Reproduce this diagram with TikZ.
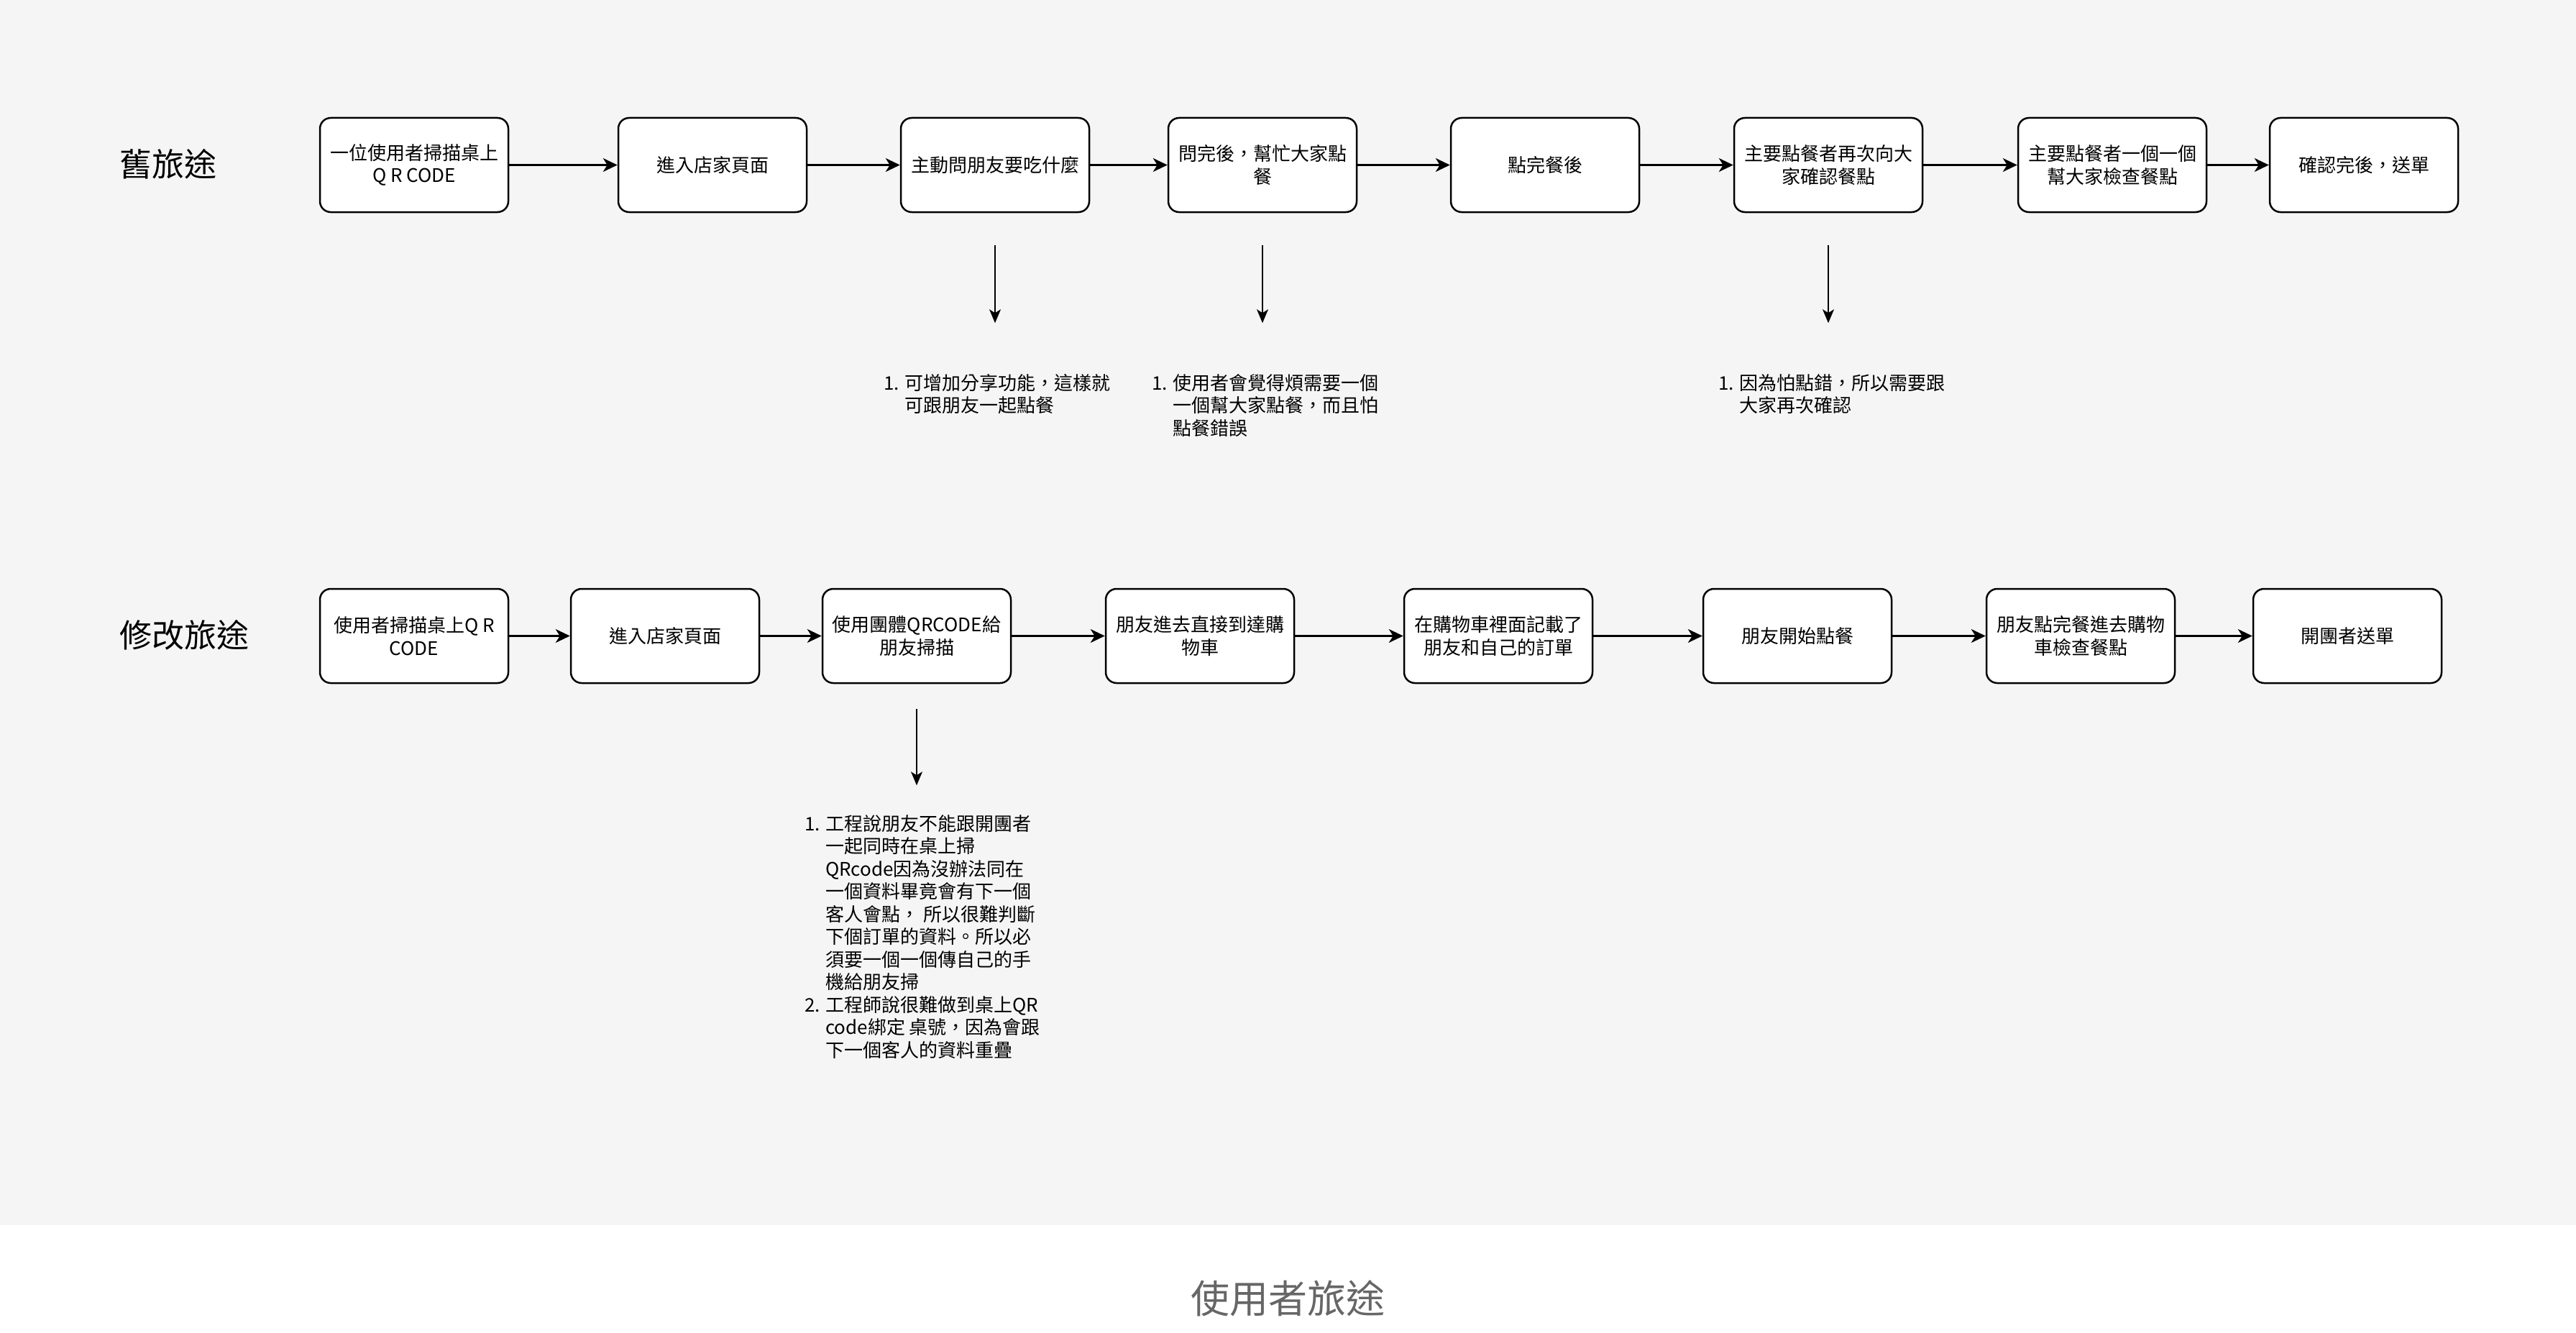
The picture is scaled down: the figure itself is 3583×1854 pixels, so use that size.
\documentclass[tikz,border=0pt]{standalone}
\usepackage{fontspec}
\setmainfont{Noto Sans CJK TC}
\usetikzlibrary{arrows.meta}
\definecolor{bggray}{HTML}{F5F5F5}
\definecolor{titlegray}{HTML}{666666}
\def\itm#1{\makebox[29pt][l]{#1}}
\def\ind{\makebox[29pt]{}}
\tikzset{
  stepbox/.style={draw, line width=2.5pt, rounded corners=15pt, fill=white,
    minimum width=262pt, minimum height=131pt, align=center, inner sep=4pt,
    font=\fontsize{26pt}{31.5pt}\selectfont},
  flow/.style={line width=2.5pt, -{Stealth[length=20pt,width=19pt,inset=6pt]}},
  hint/.style={line width=1.5pt, -{Stealth[length=19pt,width=16pt,inset=5pt]}},
  note/.style={anchor=north west, align=left, inner sep=0pt,
    font=\fontsize{26pt}{31.5pt}\selectfont},
  lane/.style={anchor=west, inner sep=0pt, font=\fontsize{45pt}{54pt}\selectfont}
}

\begin{document}
\begin{tikzpicture}[x=1pt,y=-1pt]
\useasboundingbox (0,0) rectangle (3583,1854);
\fill [white] (0,0) rectangle (3583,1854);
\fill [bggray] (0,0) rectangle (3583,1704);

% old journey
\node [lane] (oldlane) at (166,228) {舊旅途};
\node [stepbox] (o1) at (576,229.5) {一位使用者掃描桌上\\Q R CODE};
\node [stepbox] (o2) at (991,229.5) {進入店家頁面};
\node [stepbox] (o3) at (1384,229.5) {主動問朋友要吃什麼};
\node [stepbox] (o4) at (1756,229.5) {問完後，幫忙大家點\\餐};
\node [stepbox] (o5) at (2149,229.5) {點完餐後};
\node [stepbox] (o6) at (2543,229.5) {主要點餐者再次向大\\家確認餐點};
\node [stepbox] (o7) at (2938,229.5) {主要點餐者一個一個\\幫大家檢查餐點};
\node [stepbox] (o8) at (3288,229.5) {確認完後，送單};
\draw [flow] (o1) -- (o2);
\draw [flow] (o2) -- (o3);
\draw [flow] (o3) -- (o4);
\draw [flow] (o4) -- (o5);
\draw [flow] (o5) -- (o6);
\draw [flow] (o6) -- (o7);
\draw [flow] (o7) -- (o8);

\path (o3.south) ++(0,45) coordinate (h3a) ++(0,108) coordinate (h3b);
\path (o4.south) ++(0,45) coordinate (h4a) ++(0,108) coordinate (h4b);
\path (o6.south) ++(0,45) coordinate (h6a) ++(0,108) coordinate (h6b);
\draw [hint] (h3a) -- (h3b);
\draw [hint] (h4a) -- (h4b);
\draw [hint] (h6a) -- (h6b);

\node [note] (on3) at (1229,520) {\itm{1.}可增加分享功能，這樣就\\\ind 可跟朋友一起點餐};
\node [note] (on4) at (1602,520) {\itm{1.}使用者會覺得煩需要一個\\\ind 一個幫大家點餐，而且怕\\\ind 點餐錯誤};
\node [note] (on6) at (2390,520) {\itm{1.}因為怕點錯，所以需要跟\\\ind 大家再次確認};

% new journey
\node [lane] (newlane) at (166,883) {修改旅途};
\node [stepbox] (n1) at (576,884.5) {使用者掃描桌上Q R\\CODE};
\node [stepbox] (n2) at (925,884.5) {進入店家頁面};
\node [stepbox] (n3) at (1275,884.5) {使用團體QRCODE給\\朋友掃描};
\node [stepbox] (n4) at (1669,884.5) {朋友進去直接到達購\\物車};
\node [stepbox] (n5) at (2084,884.5) {在購物車裡面記載了\\朋友和自己的訂單};
\node [stepbox] (n6) at (2500,884.5) {朋友開始點餐};
\node [stepbox] (n7) at (2894,884.5) {朋友點完餐進去購物\\車檢查餐點};
\node [stepbox] (n8) at (3265,884.5) {開團者送單};
\draw [flow] (n1) -- (n2);
\draw [flow] (n2) -- (n3);
\draw [flow] (n3) -- (n4);
\draw [flow] (n4) -- (n5);
\draw [flow] (n5) -- (n6);
\draw [flow] (n6) -- (n7);
\draw [flow] (n7) -- (n8);

\path (n3.south) ++(0,35) coordinate (k3a) ++(0,106) coordinate (k3b);
\draw [hint] (k3a) -- (k3b);

\node [note] (nn3) at (1119,1133) {\itm{1.}工程說朋友不能跟開團者\\\ind 一起同時在桌上掃\\\ind QRcode因為沒辦法同在\\\ind 一個資料畢竟會有下一個\\\ind 客人會點， 所以很難判斷\\\ind 下個訂單的資料。所以必\\\ind 須要一個一個傳自己的手\\\ind 機給朋友掃\\\itm{2.}工程師說很難做到桌上QR\\\ind code綁定 桌號，因為會跟\\\ind 下一個客人的資料重疊};

\node [text=titlegray, font=\fontsize{54pt}{64pt}\selectfont] (title) at (1791.5,1806) {使用者旅途};
\end{tikzpicture}
\end{document}
